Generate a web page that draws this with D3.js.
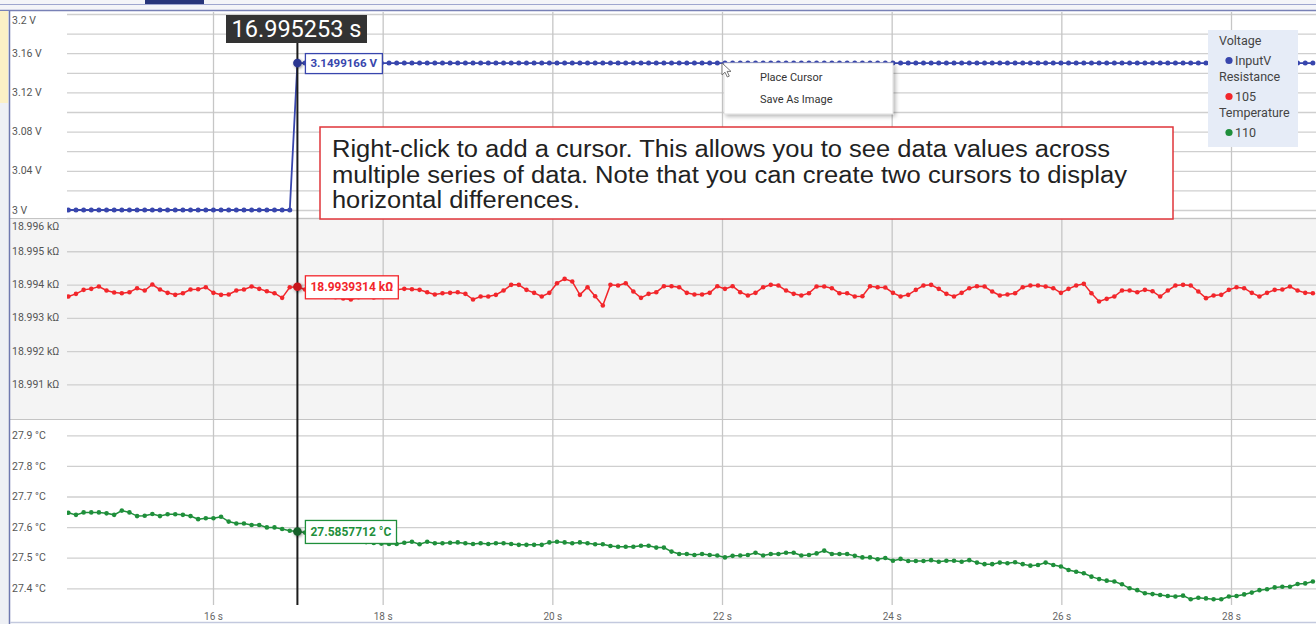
<!DOCTYPE html>
<html><head><meta charset="utf-8">
<script src="https://cdn.jsdelivr.net/npm/d3@7"></script>
<style>
html,body{margin:0;padding:0;background:#fff;overflow:hidden;}
svg{display:block;font-family:Roboto,"Noto Sans",sans-serif;}
</style></head><body>
<svg id="chart" width="1316" height="624"></svg>
<script>
// ---------------- DATA ----------------
const sampleStart = 14.295;      // s, time of first sample
const sampleInterval = 0.09;     // s between samples

const voltageValues = [
 3.0,3.0,3.0,3.0,3.0,3.0,3.0,3.0,3.0,3.0,
 3.0,3.0,3.0,3.0,3.0,3.0,3.0,3.0,3.0,3.0,
 3.0,3.0,3.0,3.0,3.0,3.0,3.0,3.0,3.0,3.0,
 3.1499166,3.1499166,3.1499166,3.1499166,3.1499166,3.1499166,3.1499166,3.1499166,3.1499166,3.1499166,
 3.1499166,3.1499166,3.1499166,3.1499166,3.1499166,3.1499166,3.1499166,3.1499166,3.1499166,3.1499166,
 3.1499166,3.1499166,3.1499166,3.1499166,3.1499166,3.1499166,3.1499166,3.1499166,3.1499166,3.1499166,
 3.1499166,3.1499166,3.1499166,3.1499166,3.1499166,3.1499166,3.1499166,3.1499166,3.1499166,3.1499166,
 3.1499166,3.1499166,3.1499166,3.1499166,3.1499166,3.1499166,3.1499166,3.1499166,3.1499166,3.1499166,
 3.1499166,3.1499166,3.1499166,3.1499166,3.1499166,3.1499166,3.1499166,3.1499166,3.1499166,3.1499166,
 3.1499166,3.1499166,3.1499166,3.1499166,3.1499166,3.1499166,3.1499166,3.1499166,3.1499166,3.1499166,
 3.1499166,3.1499166,3.1499166,3.1499166,3.1499166,3.1499166,3.1499166,3.1499166,3.1499166,3.1499166,
 3.1499166,3.1499166,3.1499166,3.1499166,3.1499166,3.1499166,3.1499166,3.1499166,3.1499166,3.1499166,
 3.1499166,3.1499166,3.1499166,3.1499166,3.1499166,3.1499166,3.1499166,3.1499166,3.1499166,3.1499166,
 3.1499166,3.1499166,3.1499166,3.1499166,3.1499166,3.1499166,3.1499166,3.1499166,3.1499166,3.1499166,
 3.1499166,3.1499166,3.1499166,3.1499166,3.1499166,3.1499166,3.1499166,3.1499166,3.1499166,3.1499166,
 3.1499166,3.1499166,3.1499166,3.1499166,3.1499166,3.1499166,3.1499166,3.1499166,3.1499166,3.1499166,
 3.1499166,3.1499166,3.1499166,3.1499166
];

const resistanceValues = [
 18.99364,18.99372,18.99384,18.99387,18.99394,18.99382,18.99376,18.99374,18.99377,18.99389,
 18.99382,18.99400,18.99385,18.99375,18.99369,18.99374,18.99385,18.99386,18.99392,18.99375,
 18.99369,18.99370,18.99382,18.99385,18.99394,18.99387,18.99380,18.99374,18.99360,18.99392,
 18.9939314,18.99385,18.99380,18.99372,18.99368,18.99362,18.99358,18.99355,18.99362,18.99368,
 18.99361,18.99370,18.99378,18.99384,18.99387,18.99386,18.99384,18.99377,18.99370,18.99374,
 18.99375,18.99377,18.99372,18.99355,18.99364,18.99364,18.99369,18.99382,18.99399,18.99399,
 18.99384,18.99375,18.99364,18.99375,18.99404,18.99417,18.99409,18.99369,18.99392,18.99365,
 18.99337,18.99399,18.99397,18.99404,18.99379,18.99360,18.99372,18.99377,18.99395,18.99395,
 18.99392,18.99375,18.99370,18.99370,18.99375,18.99395,18.99387,18.99395,18.99377,18.99367,
 18.99375,18.99392,18.99399,18.99397,18.99382,18.99372,18.99367,18.99374,18.99394,18.99394,
 18.99389,18.99374,18.99374,18.99364,18.99365,18.99395,18.99392,18.99391,18.99375,18.99364,
 18.99369,18.99384,18.99397,18.99399,18.99387,18.99372,18.99364,18.99375,18.99389,18.99395,
 18.99394,18.99379,18.99367,18.99370,18.99374,18.99392,18.99397,18.99397,18.99394,18.99389,
 18.99375,18.99387,18.99397,18.99402,18.99374,18.99349,18.99357,18.99364,18.99382,18.99382,
 18.99377,18.99384,18.99380,18.99364,18.99382,18.99397,18.99399,18.99397,18.99379,18.99359,
 18.99367,18.99369,18.99384,18.99392,18.99389,18.99375,18.99364,18.99375,18.99384,18.99385,
 18.99394,18.99382,18.99375,18.99374
];

const temperatureValues = [
 27.647,27.640,27.648,27.648,27.648,27.645,27.640,27.654,27.648,27.636,
 27.637,27.643,27.636,27.642,27.642,27.640,27.636,27.626,27.629,27.629,
 27.634,27.618,27.612,27.612,27.607,27.607,27.599,27.599,27.594,27.588,
 27.5857712,27.582,27.578,27.575,27.570,27.566,27.562,27.558,27.555,27.551,
 27.548,27.546,27.545,27.545,27.549,27.552,27.544,27.552,27.547,27.547,
 27.549,27.550,27.547,27.545,27.547,27.545,27.547,27.547,27.545,27.542,
 27.542,27.542,27.542,27.550,27.552,27.550,27.547,27.550,27.547,27.544,
 27.544,27.538,27.536,27.536,27.536,27.539,27.539,27.533,27.533,27.520,
 27.512,27.512,27.509,27.512,27.509,27.507,27.501,27.506,27.507,27.509,
 27.516,27.507,27.512,27.512,27.516,27.516,27.507,27.509,27.514,27.523,
 27.512,27.512,27.512,27.506,27.501,27.501,27.495,27.499,27.490,27.496,
 27.489,27.489,27.489,27.492,27.487,27.490,27.490,27.487,27.492,27.484,
 27.479,27.479,27.484,27.482,27.485,27.479,27.474,27.476,27.484,27.476,
 27.471,27.460,27.454,27.449,27.438,27.430,27.425,27.422,27.413,27.400,
 27.394,27.384,27.381,27.378,27.375,27.373,27.376,27.364,27.369,27.367,
 27.364,27.364,27.373,27.375,27.380,27.386,27.394,27.397,27.403,27.405,
 27.405,27.414,27.416,27.422
];

const timeTicks = [16, 18, 20, 22, 24, 26, 28];
const timeTickLabels = ["16 s", "18 s", "20 s", "22 s", "24 s", "26 s", "28 s"];

const voltageGrid = [3.00, 3.02, 3.04, 3.06, 3.08, 3.10, 3.12, 3.14, 3.16, 3.18, 3.20];
const voltageTicks = [3.2, 3.16, 3.12, 3.08, 3.04, 3.0];
const voltageTickLabels = ["3.2 V", "3.16 V", "3.12 V", "3.08 V", "3.04 V", "3 V"];

const resistanceGrid = [18.991, 18.992, 18.993, 18.994, 18.995, 18.996];
const resistanceTicks = [18.996, 18.995, 18.994, 18.993, 18.992, 18.991];
const resistanceTickLabels = ["18.996 kΩ", "18.995 kΩ", "18.994 kΩ", "18.993 kΩ", "18.992 kΩ", "18.991 kΩ"];

const temperatureGrid = [27.4, 27.5, 27.6, 27.7, 27.8, 27.9];
const temperatureTicks = [27.9, 27.8, 27.7, 27.6, 27.5, 27.4];
const temperatureTickLabels = ["27.9 °C", "27.8 °C", "27.7 °C", "27.6 °C", "27.5 °C", "27.4 °C"];

const cursorIndex = 30;
const cursorTimeLabel = "16.995253 s";
const cursorValueLabels = ["3.1499166 V", "18.9939314 kΩ", "27.5857712 °C"];

const legendGroups = ["Voltage", "Resistance", "Temperature"];
const legendItems = ["InputV", "105", "110"];
const menuItems = ["Place Cursor", "Save As Image"];
const noteLines = [
  "Right-click to add a cursor. This allows you to see data values across",
  "multiple series of data. Note that you can create two cursors to display",
  "horizontal differences."
];

// ---------------- LAYOUT / STYLE ----------------
const W = 1316, H = 624;
const plotLeft = 67, plotRight = 1316;
const colors = ["#3846ad", "#f2262b", "#1f8f3b"];
const cursorDotColors = ["#2a3690", "#c8161c", "#17602a"];
const lineWidths = [1.8, 1.5, 1.5];
const dotRadii = [2.5, 2.3, 2.3];

const svg = d3.select("#chart");
const x = d3.scaleLinear().domain([14.279, 29.002]).range([plotLeft, plotRight]);
const sampleTimes = voltageValues.map((_, i) => sampleStart + i * sampleInterval);

const panels = [
  {id: "v", top: 12, bottom: 218, domain: [3.0, 3.2], range: [210, 14], values: voltageValues,
   grid: voltageGrid, ticks: voltageTicks, labels: voltageTickLabels, bg: "#ffffff"},
  {id: "r", top: 218, bottom: 419, domain: [18.990, 18.996], range: [417.6, 218], values: resistanceValues,
   grid: resistanceGrid, ticks: resistanceTicks, labels: resistanceTickLabels, bg: "#f4f4f4"},
  {id: "t", top: 419, bottom: 605, domain: [27.3, 27.9], range: [618.9, 435.3], values: temperatureValues,
   grid: temperatureGrid, ticks: temperatureTicks, labels: temperatureTickLabels, bg: "#ffffff"}
];
panels.forEach(p => p.y = d3.scaleLinear().domain(p.domain).range(p.range));

const defs = svg.append("defs");
const f1 = defs.append("filter").attr("id", "dotShadow").attr("x", "-100%").attr("y", "-100%").attr("width", "300%").attr("height", "300%");
f1.append("feDropShadow").attr("dx", 1).attr("dy", 1).attr("stdDeviation", 1.6).attr("flood-color", "#000").attr("flood-opacity", 0.45);
const f2 = defs.append("filter").attr("id", "menuShadow").attr("x", "-20%").attr("y", "-20%").attr("width", "140%").attr("height", "160%");
f2.append("feDropShadow").attr("dx", 2).attr("dy", 2).attr("stdDeviation", 2).attr("flood-color", "#000").attr("flood-opacity", 0.3);
panels.forEach(p => {
  defs.append("clipPath").attr("id", "clip-" + p.id)
    .append("rect").attr("x", plotLeft).attr("y", p.top).attr("width", plotRight - plotLeft).attr("height", p.bottom - p.top);
});

// window frame
svg.append("rect").attr("x", 0).attr("y", 0).attr("width", W).attr("height", H).attr("fill", "#ffffff");
svg.append("rect").attr("x", 0).attr("y", 0).attr("width", W).attr("height", 11).attr("fill", "#f3f4f8");
svg.append("rect").attr("x", 145).attr("y", 0).attr("width", 59).attr("height", 4).attr("fill", "#27357a");
svg.append("line").attr("x1", 0).attr("x2", W).attr("y1", 4.5).attr("y2", 4.5).attr("stroke", "#9ea6cf").attr("stroke-width", 1);
svg.append("line").attr("x1", 0).attr("x2", W).attr("y1", 10.5).attr("y2", 10.5).attr("stroke", "#7881b6").attr("stroke-width", 1.6);

// panel backgrounds
panels.forEach(p => {
  svg.append("rect").attr("x", 10).attr("y", p.top).attr("width", W - 10).attr("height", p.bottom - p.top).attr("fill", p.bg);
});

// gridlines and axes
panels.forEach(p => {
  const hg = svg.append("g").attr("transform", `translate(${plotLeft},0)`)
    .call(d3.axisLeft(p.y).tickValues(p.grid).tickSize(-(plotRight - plotLeft)).tickFormat(""));
  hg.select(".domain").remove();
  hg.selectAll(".tick line").attr("stroke", "#cfcfcf").attr("stroke-width", 1.3);

  const vg = svg.append("g").attr("transform", `translate(0,${p.bottom})`)
    .call(d3.axisBottom(x).tickValues(timeTicks).tickSize(-(p.bottom - p.top)).tickFormat(""));
  vg.select(".domain").remove();
  vg.selectAll(".tick line").attr("stroke", "#c6c6c6").attr("stroke-width", 1.3);

  const lg = svg.append("g").attr("transform", `translate(${plotLeft},0)`)
    .call(d3.axisLeft(p.y).tickValues(p.ticks).tickSize(0).tickFormat((d, i) => p.labels[i]));
  lg.select(".domain").remove();
  lg.selectAll(".tick").attr("transform", d => `translate(0,${Math.max(p.y(d), p.top + 8)})`);
  lg.selectAll(".tick text").attr("x", 12 - plotLeft).attr("dy", "0.35em").attr("text-anchor", "start")
    .attr("fill", "#555").attr("font-size", 10.5).attr("font-family", "Roboto, sans-serif");
});

// panel separators
[218, 419].forEach(yy => svg.append("line").attr("x1", 10).attr("x2", W).attr("y1", yy + 0.5).attr("y2", yy + 0.5)
  .attr("stroke", "#c4c4c4").attr("stroke-width", 1));

// x axis labels
const xa = svg.append("g").attr("transform", "translate(0,605)")
  .call(d3.axisBottom(x).tickValues(timeTicks).tickSize(0).tickPadding(8).tickFormat((d, i) => timeTickLabels[i]));
xa.select(".domain").remove();
xa.selectAll(".tick text").attr("fill", "#666").attr("font-size", 10).attr("font-family", "Roboto, sans-serif");

// left frame and bottom
svg.append("rect").attr("x", 0).attr("y", 11).attr("width", 9).attr("height", H - 11).attr("fill", "#eef0f5");
svg.append("rect").attr("x", 0).attr("y", 11).attr("width", 8).attr("height", 92).attr("fill", "#fbf0c6");
svg.append("line").attr("x1", 9.5).attr("x2", 9.5).attr("y1", 11).attr("y2", H).attr("stroke", "#6f79b0").attr("stroke-width", 1.5);
svg.append("line").attr("x1", 10).attr("x2", W).attr("y1", 622.5).attr("y2", 622.5).attr("stroke", "#c3c9de").attr("stroke-width", 1.5);

// series
panels.forEach((p, k) => {
  const data = p.values.map((v, i) => ({t: sampleTimes[i], v}));
  const g = svg.append("g").attr("clip-path", `url(#clip-${p.id})`);
  g.append("path").datum(data)
    .attr("d", d3.line().x(d => x(d.t)).y(d => p.y(d.v)))
    .attr("fill", "none").attr("stroke", colors[k]).attr("stroke-width", lineWidths[k]);
  g.selectAll("circle").data(data).join("circle")
    .attr("cx", d => x(d.t)).attr("cy", d => p.y(d.v)).attr("r", dotRadii[k]).attr("fill", colors[k]);
});

// cursor
const cx = x(sampleTimes[cursorIndex]);
svg.append("line").attr("x1", cx).attr("x2", cx).attr("y1", 42).attr("y2", 605)
  .attr("stroke", "#1c1c1c").attr("stroke-width", 2);

panels.forEach((p, k) => {
  const cy = p.y(p.values[cursorIndex]);
  svg.append("circle").attr("cx", cx).attr("cy", cy).attr("r", 4.3)
    .attr("fill", cursorDotColors[k]).attr("filter", "url(#dotShadow)");
  const g = svg.append("g");
  const rect = g.append("rect");
  const t = g.append("text").attr("x", cx + 13).attr("y", cy).attr("dy", "0.36em")
    .attr("fill", colors[k]).attr("font-weight", "bold").attr("font-size", k === 0 ? 11.5 : 12)
    .attr("font-family", "Roboto, sans-serif").text(cursorValueLabels[k]);
  const bb = t.node().getBBox();
  const hgt = k === 0 ? 20 : 23;
  rect.attr("x", cx + 8).attr("y", cy - hgt / 2 + 0.5).attr("width", bb.width + 10).attr("height", hgt)
    .attr("fill", "#fff").attr("stroke", colors[k]).attr("stroke-width", 1.3);
});

// cursor time label
svg.append("rect").attr("x", 226).attr("y", 15).attr("width", 141).attr("height", 28).attr("fill", "#333333");
svg.append("text").attr("x", 296.5).attr("y", 37).attr("text-anchor", "middle")
  .attr("fill", "#ffffff").attr("font-size", 23).attr("font-family", "Roboto, sans-serif")
  .attr("textLength", 130).attr("lengthAdjust", "spacingAndGlyphs").text(cursorTimeLabel);

// callout note
svg.append("rect").attr("x", 320).attr("y", 127).attr("width", 853).attr("height", 92)
  .attr("fill", "#fff").attr("stroke", "#e0353a").attr("stroke-width", 1.5);
const noteWidths = [778, 795, 248];
noteLines.forEach((line, i) => {
  svg.append("text").attr("x", 332).attr("y", 157 + i * 25.5)
    .attr("fill", "#222").attr("font-size", 23).attr("font-family", "'Liberation Sans', Arial, sans-serif")
    .attr("textLength", noteWidths[i]).attr("lengthAdjust", "spacingAndGlyphs").text(line);
});

// legend
svg.append("rect").attr("x", 1208).attr("y", 30).attr("width", 90).attr("height", 117).attr("fill", "#e6ecf7");
legendGroups.forEach((gname, i) => {
  const y0 = 41 + i * 36;
  svg.append("text").attr("x", 1219).attr("y", y0).attr("dy", "0.35em").attr("fill", "#444")
    .attr("font-size", 12.5).attr("font-family", "Roboto, sans-serif").text(gname);
  svg.append("circle").attr("cx", 1229).attr("cy", y0 + 19.5).attr("r", 3.6).attr("fill", colors[i]);
  svg.append("text").attr("x", 1235).attr("y", y0 + 19.5).attr("dy", "0.35em").attr("fill", "#444")
    .attr("font-size", 12.5).attr("font-family", "Roboto, sans-serif").text(legendItems[i]);
});

// context menu
svg.append("rect").attr("x", 724).attr("y", 63).attr("width", 169).attr("height", 51)
  .attr("fill", "#fff").attr("stroke", "#d8d8d8").attr("stroke-width", 0.8).attr("filter", "url(#menuShadow)");
menuItems.forEach((m, i) => {
  svg.append("text").attr("x", 760).attr("y", 77 + i * 22).attr("dy", "0.35em").attr("fill", "#333")
    .attr("font-size", 11).attr("font-family", "Roboto, sans-serif").text(m);
});
// mouse pointer
svg.append("path").attr("transform", "translate(722,63)")
  .attr("d", "M0,0 L0,12 L3,9.2 L5.3,14 L7.3,13.1 L5.1,8.4 L9,8.4 Z")
  .attr("fill", "#fff").attr("stroke", "#666").attr("stroke-width", 0.9);
</script>
</body></html>
